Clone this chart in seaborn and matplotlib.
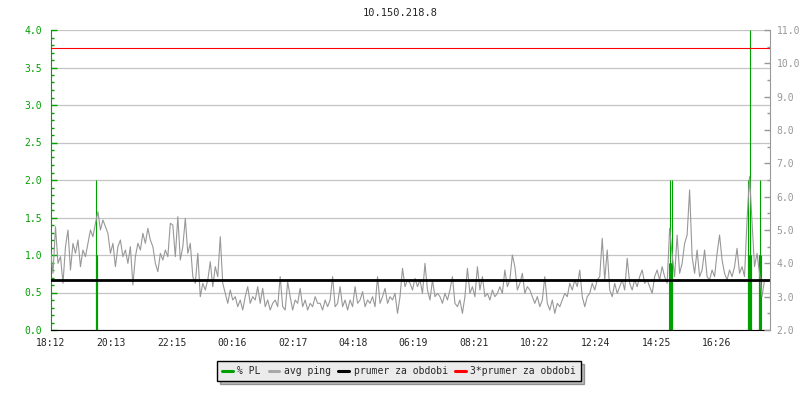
import numpy as np
import pandas as pd
import seaborn as sns
import matplotlib.pyplot as plt
from matplotlib.lines import Line2D
from matplotlib.ticker import MultipleLocator, FormatStrFormatter

title = "10.150.218.8"
start_time = "18:12"
step_min = 5
span_min = 1440
tick_labels = ["18:12", "20:13", "22:15", "00:16", "02:17", "04:18",
               "06:19", "08:21", "10:22", "12:24", "14:25", "16:26"]

# avg ping [ms], one value every 5 minutes, 12 per hour
ping_ms = [
    4.4, 3.7, 5.1, 4.0, 4.2, 3.4, 4.5, 5.0, 3.8, 4.6, 4.3, 4.7,
    3.9, 4.4, 4.2, 4.6, 5.0, 4.8, 5.2, 5.55, 5.0, 5.3, 5.1, 4.9,
    4.3, 4.6, 3.9, 4.5, 4.7, 4.2, 4.4, 4.0, 4.5, 3.35, 4.2, 4.6,
    4.4, 4.9, 4.6, 5.05, 4.7, 4.5, 4.0, 3.75, 4.3, 4.1, 4.4, 4.2,
    5.2, 5.15, 4.2, 5.4, 4.1, 4.5, 5.35, 4.3, 4.6, 3.6, 3.4, 4.3,
    3.0, 3.4, 3.2, 3.5, 4.05, 3.3, 3.9, 3.6, 4.8, 3.4, 3.1, 2.8,
    3.2, 2.9, 3.0, 2.7, 2.9, 2.6, 3.0, 3.3, 2.8, 3.0, 2.9, 3.3,
    2.8, 3.25, 2.7, 2.9, 2.6, 2.8, 2.9, 2.7, 3.6, 2.7, 2.6, 3.45,
    3.0, 2.6, 2.9, 2.8, 3.25, 2.7, 2.9, 2.6, 2.8, 2.7, 3.0, 2.8,
    2.8, 2.6, 2.9, 2.7, 2.9, 3.6, 2.7, 2.8, 3.3, 2.7, 2.9, 2.6,
    2.9, 2.7, 3.3, 2.8, 2.9, 3.15, 2.7, 2.9, 2.8, 3.0, 2.7, 3.6,
    2.8, 3.0, 3.25, 2.8, 3.0, 2.9, 3.1, 2.5, 3.0, 3.85, 3.3, 3.5,
    3.4, 3.2, 3.55, 3.3, 3.5, 3.1, 4.0, 3.2, 2.9, 3.5, 3.0, 3.1,
    3.0, 2.8, 3.1, 2.9, 3.2, 3.6, 2.8, 2.7, 2.9, 2.5, 3.0, 3.85,
    3.1, 3.3, 3.0, 3.9, 3.2, 3.6, 3.0, 3.1, 2.9, 3.2, 3.0, 3.1,
    3.3, 3.1, 3.8, 3.3, 3.5, 4.25, 3.9, 3.2, 3.4, 3.7, 3.1, 3.3,
    3.2, 3.0, 2.8, 3.0, 2.7, 2.9, 3.6, 2.8, 2.6, 2.9, 2.5, 2.8,
    2.7, 2.9, 3.1, 3.0, 3.4, 3.2, 3.5, 3.3, 3.8, 3.0, 2.7, 3.0,
    3.1, 3.4, 3.2, 3.5, 3.6, 4.75, 3.5, 4.4, 3.2, 3.0, 3.4, 3.1,
    3.3, 3.5, 3.2, 4.15, 3.4, 3.2, 3.5, 3.3, 3.6, 3.8, 3.4, 3.5,
    3.3, 3.1, 3.6, 3.8, 3.5, 3.9, 3.6, 3.4, 5.05, 4.25, 3.6, 4.85,
    3.7, 4.0, 4.6, 4.85, 6.2, 4.2, 3.7, 4.4, 3.6, 3.8, 4.4, 3.6,
    3.5, 3.8, 3.6, 4.3, 4.85, 4.1, 3.7, 3.5, 3.8, 3.6, 3.9, 4.45,
    3.7, 3.9, 3.6, 5.3, 6.6, 5.25, 3.9, 4.3, 3.7, 3.0, 3.5, 3.45,
]

# packet loss events: minute after start, loss [%]
pl_minute = [91, 92, 93, 94,
             1239, 1240, 1241, 1242, 1243, 1244, 1245,
             1396, 1397, 1398, 1399, 1400, 1401, 1402, 1403,
             1418, 1419, 1420, 1421, 1422]
pl_percent = [1.0, 2.0, 1.0, 1.0,
              0.9, 2.0, 0.9, 0.9, 0.9, 2.0, 0.9,
              1.0, 2.0, 1.0, 1.0, 4.0, 1.0, 1.0, 1.0,
              1.0, 1.0, 2.0, 1.0, 1.0]

prumer = 3.49  # period average ping [ms]

legend_labels = ["% PL", "avg ping", "prumer za obdobi", "3*prumer za obdobi"]

GREEN = "#00A000"
GRAY = "#989898"
GRID = "#C4C4C4"

sns.set_style("white")
plt.rcParams['font.family'] = ['DejaVu Sans Mono', 'DejaVu Sans']

minutes = np.arange(len(ping_ms)) * step_min
ping = pd.DataFrame({"minute": minutes, "ping": ping_ms})

t0 = pd.to_datetime(start_time, format="%H:%M")
tick_pos = [((pd.to_datetime(t, format="%H:%M") - t0).total_seconds() / 60) % 1440
            for t in tick_labels]

fig = plt.figure(figsize=(8, 4), dpi=100)
ax = fig.add_axes([50.5 / 800, 70 / 400, 719 / 800, 300 / 400])
ax2 = ax.twinx()

ax.vlines(pl_minute, 0, pl_percent, color=GREEN, lw=0.8)
sns.lineplot(data=ping, x="minute", y="ping", ax=ax2, color=GRAY, lw=0.8, legend=False)
ax2.axhline(prumer, color="black", lw=2)
ax2.axhline(3 * prumer, color="red", lw=0.8)

ax.set_xlim(0, span_min)
ax.set_ylim(0, 4)
ax2.set_ylim(2, 11)

ax.yaxis.set_major_locator(MultipleLocator(0.5))
ax.yaxis.set_minor_locator(MultipleLocator(0.1))
ax.yaxis.set_major_formatter(FormatStrFormatter("%.1f"))
ax2.yaxis.set_major_locator(MultipleLocator(1))
ax2.yaxis.set_minor_locator(MultipleLocator(0.5))
ax2.yaxis.set_major_formatter(FormatStrFormatter("%.1f"))
ax.set_xticks(tick_pos)
ax.set_xticklabels(tick_labels)

ax.grid(axis="y", which="major", color=GRID, lw=0.9)
ax.grid(axis="x", visible=False)
ax2.grid(False)

ax.tick_params(axis="y", which="major", direction="in", length=4, width=1,
               color=GREEN, labelcolor=GREEN, labelsize=7, pad=6)
ax.tick_params(axis="y", which="minor", direction="in", length=2.5, width=1, color=GREEN)
ax.tick_params(axis="x", direction="in", length=4, width=1, color="black",
               labelsize=7, pad=6)
ax2.tick_params(axis="y", which="major", direction="in", length=4, width=1,
                color=GRAY, labelcolor=GRAY, labelsize=7, pad=5)
ax2.tick_params(axis="y", which="minor", direction="in", length=2.5, width=1, color=GRAY)

for s in ["top", "right"]:
    ax.spines[s].set_visible(False)
ax.spines["left"].set_color(GREEN)
ax.spines["bottom"].set_color("black")
for s in ["top", "left", "bottom"]:
    ax2.spines[s].set_visible(False)
ax2.spines["right"].set_color(GRAY)
ax.set_xlabel("")
ax.set_ylabel("")
ax2.set_xlabel("")
ax2.set_ylabel("")

fig.text(0.5, 1 - 13 / 400, title, ha="center", va="center", fontsize=7.5)

handles = [Line2D([0], [0], color=GREEN, lw=2.2),
           Line2D([0], [0], color="#A8A8A8", lw=2.2),
           Line2D([0], [0], color="black", lw=2.2),
           Line2D([0], [0], color="red", lw=2.2)]
leg = fig.legend(handles, legend_labels, loc="center", bbox_to_anchor=(0.499, 1 - 371 / 400),
                 ncol=4, fontsize=7, frameon=True, fancybox=False, facecolor="#EBEBEB",
                 edgecolor="black", framealpha=1, shadow={"facecolor": "#808080"},
                 handlelength=1.1, handletextpad=0.45, columnspacing=0.8, borderpad=0.5)
leg.get_frame().set_linewidth(1)

fig.savefig("out.png", dpi=100)
